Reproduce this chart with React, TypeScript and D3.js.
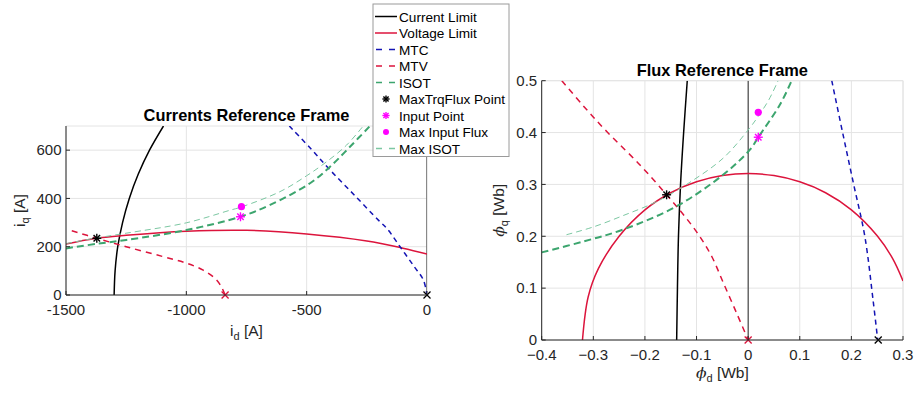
import * as d3 from 'd3'

type P = [number, number]

// ---- currents reference frame (A) ----
const currentLimitI: P[] = [[-1300, 0], [-1296, 100], [-1285, 200], [-1265, 300], [-1237, 400], [-1200, 500], [-1153, 600], [-1095, 700]]
const voltageLimitI: P[] = [[-1500, 211], [-1380, 234], [-1250, 247], [-1000, 264], [-750, 268], [-500, 253], [-250, 224], [-100, 194], [0, 170]]
const mtcI: P[] = [[-572, 700], [-480, 603], [-403, 518], [-300, 412], [-200, 308], [-167, 276], [-112, 200], [-55, 120], [-15, 62], [0, 0]]
const mtvI: P[] = [[-1476, 266], [-1372, 235], [-1250, 200], [-1100, 160], [-1000, 132], [-930, 103], [-880, 68], [-855, 35], [-839, 0]]
const isotI: P[] = [[-1500, 193], [-1372, 212], [-1250, 228], [-1000, 269], [-777, 324], [-652, 373], [-486, 463], [-403, 531], [-320, 614], [-237, 700]]
const maxIsotI: P[] = [[-1500, 213], [-1380, 235], [-1250, 256], [-1000, 299], [-819, 351], [-770, 365], [-611, 428], [-500, 494], [-417, 552], [-334, 621], [-265, 700]]
const maxTrqI: P = [-1372, 235]
const inputI: P = [-775, 324]
const maxFluxI: P = [-771, 366]
const mtvEndI: P = [-839, 0]
const mtcEndI: P = [0, 0]
const xTicksI = [-1500, -1000, -500, 0]
const yTicksI = [0, 200, 400, 600]

// ---- flux reference frame (Wb) ----
const currentLimitF: P[] = [[-0.1385, 0], [-0.137, 0.1], [-0.135, 0.2], [-0.131, 0.3], [-0.125, 0.4], [-0.118, 0.5]]
const voltageLimitF: P[] = [[-0.321, 0], [-0.31, 0.083], [-0.29, 0.138], [-0.25, 0.2], [-0.2, 0.251], [-0.15, 0.284], [-0.1, 0.305], [-0.05, 0.317], [0, 0.321], [0.05, 0.317], [0.1, 0.305], [0.15, 0.284], [0.2, 0.251], [0.25, 0.201], [0.28, 0.157], [0.3, 0.114]]
const mtcF: P[] = [[0.162, 0.5], [0.183, 0.4], [0.204, 0.302], [0.226, 0.2], [0.242, 0.077], [0.251, 0]]
const mtvF: P[] = [[-0.361, 0.5], [-0.318, 0.45], [-0.274, 0.402], [-0.21, 0.338], [-0.158, 0.28], [-0.124, 0.24], [-0.094, 0.2], [-0.07, 0.16], [-0.048, 0.11], [-0.022, 0.051], [0, 0]]
const isotF: P[] = [[-0.4, 0.169], [-0.319, 0.19], [-0.242, 0.213], [-0.1385, 0.258], [-0.048, 0.319], [0.0035, 0.367], [0.0196, 0.391], [0.0617, 0.454], [0.0843, 0.5]]
const maxIsotF: P[] = [[-0.352, 0.203], [-0.3, 0.218], [-0.242, 0.24], [-0.177, 0.267], [-0.113, 0.304], [-0.048, 0.351], [0, 0.405], [0.02, 0.432], [0.04, 0.463], [0.058, 0.5]]
const maxTrqF: P = [-0.158, 0.28]
const inputF: P = [0.0196, 0.391]
const maxFluxF: P = [0.0196, 0.439]
const mtvEndF: P = [0, 0]
const mtcEndF: P = [0.252, 0]
const xTicksF = [-0.4, -0.3, -0.2, -0.1, 0, 0.1, 0.2, 0.3]
const yTicksF = [0, 0.1, 0.2, 0.3, 0.4, 0.5]

const legendNames = ['Current Limit', 'Voltage Limit', 'MTC', 'MTV', 'ISOT', 'MaxTrqFlux Point', 'Input Point', 'Max Input Flux', 'Max ISOT']

const C = {
  axis: '#262626',
  grid: '#e4e4e4',
  black: '#000000',
  volt: '#dc143c',
  mtc: '#1414b4',
  mtv: '#dc143c',
  isot: '#3ca56e',
  maxIsot: '#7cc7a2',
  mag: '#ff00ff',
}
const FONT = '"Liberation Sans", Arial, Helvetica, sans-serif'

const smooth = d3.curveCatmullRom.alpha(0.5)

function Star({ x, y, color, r = 4.5 }: { x: number; y: number; color: string; r?: number }) {
  const d = r * 0.72
  return (
    <g stroke={color} strokeWidth={1.4}>
      <line x1={x - r} y1={y} x2={x + r} y2={y} />
      <line x1={x} y1={y - r} x2={x} y2={y + r} />
      <line x1={x - d} y1={y - d} x2={x + d} y2={y + d} />
      <line x1={x - d} y1={y + d} x2={x + d} y2={y - d} />
    </g>
  )
}

function Cross({ x, y, color }: { x: number; y: number; color: string }) {
  const r = 3.5
  return (
    <g stroke={color} strokeWidth={1.3}>
      <line x1={x - r} y1={y - r} x2={x + r} y2={y + r} />
      <line x1={x - r} y1={y + r} x2={x + r} y2={y - r} />
    </g>
  )
}

type Series = { data: P[]; color: string; width: number; dash?: string }

function Panel(props: {
  id: string
  xDomain: [number, number]
  yDomain: [number, number]
  xRange: [number, number]
  yRange: [number, number]
  xTicks: number[]
  yTicks: number[]
  fmt: (v: number) => string
  series: Series[]
  maxTrq: P
  input: P
  maxFlux: P
  mtvEnd: P
  mtcEnd: P
  title: string
  titleY: number
  xLabel: JSX.Element
  xLabelY: number
  yLabel: JSX.Element
  yLabelX: number
}) {
  const x = d3.scaleLinear(props.xDomain, props.xRange)
  const y = d3.scaleLinear(props.yDomain, props.yRange)
  const line = d3.line<P>().x(d => x(d[0])).y(d => y(d[1])).curve(smooth)
  const [x0, x1] = props.xRange
  const [y0, y1] = props.yRange
  const cx = (x0 + x1) / 2
  const cy = (y0 + y1) / 2
  return (
    <g fontFamily={FONT}>
      <defs>
        <clipPath id={props.id}>
          <rect x={x0} y={y1} width={x1 - x0} height={y0 - y1} />
        </clipPath>
      </defs>
      {/* grid */}
      <g stroke={C.grid} strokeWidth={1}>
        {props.xTicks.map(t => <line key={'gx' + t} x1={x(t)} x2={x(t)} y1={y0} y2={y1} />)}
        {props.yTicks.map(t => <line key={'gy' + t} x1={x0} x2={x1} y1={y(t)} y2={y(t)} />)}
        <line x1={x0} x2={x1} y1={y1} y2={y1} />
        <line x1={x1} x2={x1} y1={y0} y2={y1} />
      </g>
      <g clipPath={`url(#${props.id})`} fill="none">
        <line x1={x(0)} x2={x(0)} y1={y0} y2={y1} stroke={C.axis} strokeWidth={1} />
        {props.series.map((s, i) => (
          <path key={i} d={line(s.data) ?? ''} stroke={s.color} strokeWidth={s.width} strokeDasharray={s.dash} />
        ))}
      </g>
      <Star x={x(props.maxTrq[0])} y={y(props.maxTrq[1])} color={C.black} />
      <Star x={x(props.input[0])} y={y(props.input[1])} color={C.mag} />
      <circle cx={x(props.maxFlux[0])} cy={y(props.maxFlux[1])} r={3.6} fill={C.mag} />
      <Cross x={x(props.mtvEnd[0])} y={y(props.mtvEnd[1])} color={C.volt} />
      <Cross x={x(props.mtcEnd[0])} y={y(props.mtcEnd[1])} color={C.black} />
      {/* axes */}
      <g stroke={C.axis} strokeWidth={1}>
        <line x1={x0} x2={x1} y1={y0} y2={y0} />
        <line x1={x0} x2={x0} y1={y0} y2={y1} />
        {props.xTicks.map(t => <line key={'tx' + t} x1={x(t)} x2={x(t)} y1={y0} y2={y0 - 4} />)}
        {props.yTicks.map(t => <line key={'ty' + t} x1={x0} x2={x0 + 4} y1={y(t)} y2={y(t)} />)}
      </g>
      <g fill={C.axis} fontSize={15}>
        {props.xTicks.map(t => (
          <text key={'lx' + t} x={x(t)} y={y0 + 19.7} textAnchor="middle">{props.fmt(t)}</text>
        ))}
        {props.yTicks.map(t => (
          <text key={'ly' + t} x={x0 - 4.5} y={y(t) + 5.3} textAnchor="end">{props.fmt(t)}</text>
        ))}
      </g>
      <text x={cx} y={props.titleY} textAnchor="middle" fontWeight="bold" fontSize={16.4} fill="#000">{props.title}</text>
      <text x={cx} y={props.xLabelY} textAnchor="middle" fontSize={15.5} fill={C.axis}>{props.xLabel}</text>
      <text transform={`translate(${props.yLabelX},${cy}) rotate(-90)`} textAnchor="middle" fontSize={15.5} fill={C.axis}>{props.yLabel}</text>
    </g>
  )
}

function Legend() {
  const left = 373
  const top = 4
  const rowH = 16.5
  const firstY = 16.5
  const samples: { kind: 'line' | 'dash' | 'star' | 'dot'; color: string; width?: number }[] = [
    { kind: 'line', color: C.black, width: 1.5 },
    { kind: 'line', color: C.volt, width: 1.5 },
    { kind: 'dash', color: C.mtc, width: 1.5 },
    { kind: 'dash', color: C.mtv, width: 1.5 },
    { kind: 'dash', color: C.isot, width: 1.5 },
    { kind: 'star', color: C.black },
    { kind: 'star', color: C.mag },
    { kind: 'dot', color: C.mag },
    { kind: 'dash', color: C.maxIsot, width: 1.5 },
  ]
  return (
    <g fontFamily={FONT}>
      <rect x={left} y={top} width={136} height={152.5} fill="#fff" stroke="#9a9a9a" strokeWidth={1} />
      {legendNames.map((name, i) => {
        const yy = top + firstY + i * rowH - 4
        const s = samples[i]
        return (
          <g key={name}>
            {s.kind === 'line' && <line x1={left + 2} x2={left + 24} y1={yy} y2={yy} stroke={s.color} strokeWidth={s.width} />}
            {s.kind === 'dash' && <line x1={left + 3} x2={left + 22} y1={yy} y2={yy} stroke={s.color} strokeWidth={s.width} strokeDasharray="6,7" />}
            {s.kind === 'star' && <Star x={left + 13} y={yy} color={s.color} r={3.6} />}
            {s.kind === 'dot' && <circle cx={left + 13} cy={yy} r={3} fill={s.color} />}
            <text x={left + 26} y={yy + 5} fontSize={13.6} fill="#000">{name}</text>
          </g>
        )
      })}
    </g>
  )
}

export default function App() {
  const fmtI = (v: number) => String(v)
  const fmtF = (v: number) => (v === 0 ? '0' : d3.format('.1f')(v))
  const sub = { fontSize: 11 }
  const phi = { fontFamily: '"DejaVu Serif", serif', fontStyle: 'italic' as const }
  return (
    <svg width={915} height={394} style={{ position: 'absolute', left: 0, top: 0, background: '#fff' }}>
      <Panel
        id="clipI"
        xDomain={[-1500, 0]}
        yDomain={[0, 700]}
        xRange={[66, 427]}
        yRange={[295, 126]}
        xTicks={xTicksI}
        yTicks={yTicksI}
        fmt={fmtI}
        series={[
          { data: currentLimitI, color: C.black, width: 1.5 },
          { data: voltageLimitI, color: C.volt, width: 1.5 },
          { data: mtcI, color: C.mtc, width: 1.5, dash: '5,4' },
          { data: mtvI, color: C.mtv, width: 1.5, dash: '6,5' },
          { data: maxIsotI, color: C.maxIsot, width: 1, dash: '6,4' },
          { data: isotI, color: C.isot, width: 2, dash: '7,4' },
        ]}
        maxTrq={maxTrqI}
        input={inputI}
        maxFlux={maxFluxI}
        mtvEnd={mtvEndI}
        mtcEnd={mtcEndI}
        title="Currents Reference Frame"
        titleY={121}
        xLabel={<>i<tspan {...sub} dy={4}>d</tspan><tspan dy={-4}> [A]</tspan></>}
        xLabelY={336}
        yLabel={<>i<tspan {...sub} dy={4}>q</tspan><tspan dy={-4}> [A]</tspan></>}
        yLabelX={25}
      />
      <Panel
        id="clipF"
        xDomain={[-0.4, 0.3]}
        yDomain={[0, 0.5]}
        xRange={[541.7, 903]}
        yRange={[340, 80.7]}
        xTicks={xTicksF}
        yTicks={yTicksF}
        fmt={fmtF}
        series={[
          { data: currentLimitF, color: C.black, width: 1.5 },
          { data: voltageLimitF, color: C.volt, width: 1.5 },
          { data: mtcF, color: C.mtc, width: 1.5, dash: '5,4' },
          { data: mtvF, color: C.mtv, width: 1.5, dash: '6,5' },
          { data: maxIsotF, color: C.maxIsot, width: 1, dash: '6,4' },
          { data: isotF, color: C.isot, width: 2, dash: '7,4' },
        ]}
        maxTrq={maxTrqF}
        input={inputF}
        maxFlux={maxFluxF}
        mtvEnd={mtvEndF}
        mtcEnd={mtcEndF}
        title="Flux Reference Frame"
        titleY={76}
        xLabel={<><tspan {...phi}>ϕ</tspan><tspan {...sub} dy={4}>d</tspan><tspan dy={-4}> [Wb]</tspan></>}
        xLabelY={378}
        yLabel={<><tspan {...phi}>ϕ</tspan><tspan {...sub} dy={4}>q</tspan><tspan dy={-4}> [Wb]</tspan></>}
        yLabelX={504}
      />
      <Legend />
    </svg>
  )
}
